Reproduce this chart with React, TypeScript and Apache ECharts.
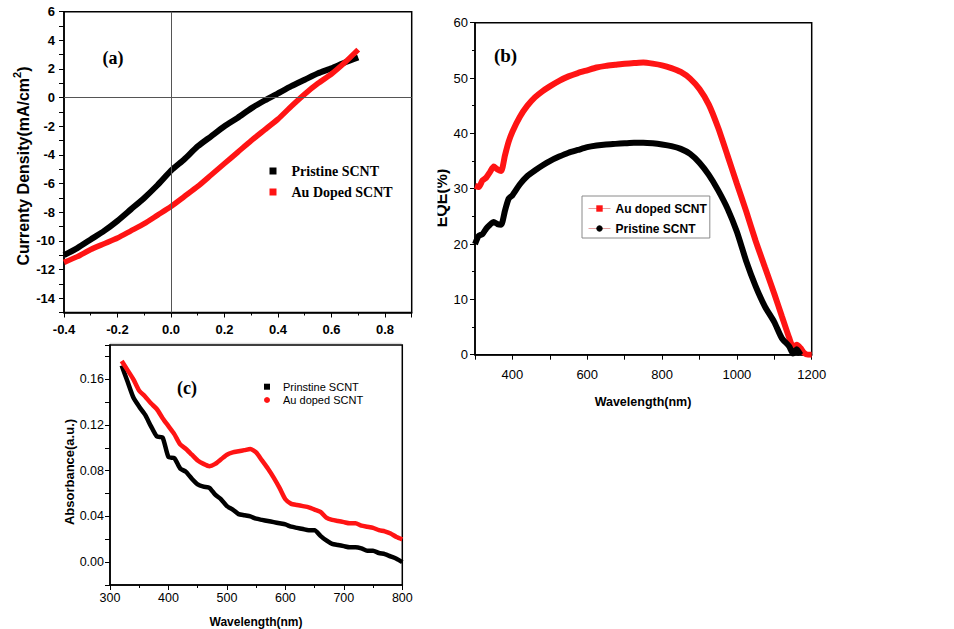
import React, { useEffect, useRef } from "react";
import * as echarts from "echarts";

// ---------- Panel (a): J-V curves ----------
const aVoltage = [-0.4, -0.35, -0.3, -0.25, -0.2, -0.15, -0.1, -0.05, 0, 0.05, 0.1, 0.15, 0.2, 0.25, 0.3, 0.35, 0.4, 0.45, 0.5, 0.55, 0.6, 0.65, 0.7];
const aPristine = [-11.0, -10.5, -9.9, -9.3, -8.6, -7.8, -7.0, -6.1, -5.1, -4.3, -3.4, -2.7, -2.0, -1.4, -0.75, -0.2, 0.3, 0.8, 1.25, 1.7, 2.05, 2.45, 2.8];
const aAuDoped = [-11.5, -11.1, -10.6, -10.2, -9.8, -9.3, -8.8, -8.2, -7.6, -6.9, -6.2, -5.4, -4.6, -3.8, -3.0, -2.25, -1.5, -0.6, 0.25, 1.0, 1.65, 2.45, 3.35];

// ---------- Panel (b): EQE ----------
const bWavelength = [300, 310, 320, 330, 340, 350, 360, 370, 380, 390, 400, 420, 440, 460, 480, 500, 525, 550, 575, 600, 625, 650, 675, 700, 725, 750, 775, 800, 825, 850, 875, 900, 925, 950, 975, 1000, 1025, 1050, 1075, 1100, 1120, 1140, 1150, 1160, 1170, 1180, 1190, 1200];
const bAuDoped = [30.5, 30.3, 31.5, 32.0, 33.0, 34.0, 33.5, 33.2, 36.0, 38.5, 40.3, 43.0, 45.0, 46.5, 47.6, 48.5, 49.5, 50.3, 50.9, 51.4, 51.9, 52.2, 52.4, 52.6, 52.7, 52.8, 52.6, 52.3, 51.8, 51.1, 49.9, 48.0, 45.2, 41.0, 36.0, 30.9, 25.9, 20.6, 15.8, 11.0, 7.0, 3.0, 1.4, 1.8, 1.2, 0.3, 0, 0];
const bPristine = [20.0, 21.5, 21.8, 22.8, 23.5, 24.0, 23.6, 23.5, 26.0, 28.2, 28.8, 30.8, 32.3, 33.3, 34.2, 35.0, 35.8, 36.5, 37.0, 37.5, 37.8, 38.0, 38.1, 38.2, 38.3, 38.3, 38.2, 38.0, 37.7, 37.2, 36.3, 34.7, 32.5, 29.7, 26.4, 22.2, 16.9, 12.4, 8.7, 5.9, 3.0, 1.5, 0.2, 1.0, 0, null, null, null];

// ---------- Panel (c): Absorbance ----------
const cWavelength = [320, 330, 340, 350, 360, 370, 380, 390, 400, 410, 420, 430, 440, 450, 460, 470, 480, 490, 500, 510, 520, 530, 540, 550, 560, 570, 580, 590, 600, 610, 620, 630, 640, 650, 660, 670, 680, 690, 700, 710, 720, 730, 740, 750, 760, 770, 780, 790, 800];
const cPristine = [0.172, 0.158, 0.144, 0.136, 0.129, 0.119, 0.110, 0.109, 0.092, 0.091, 0.082, 0.079, 0.073, 0.068, 0.066, 0.065, 0.059, 0.055, 0.049, 0.046, 0.042, 0.041, 0.040, 0.038, 0.037, 0.036, 0.035, 0.034, 0.033, 0.031, 0.030, 0.029, 0.028, 0.028, 0.023, 0.019, 0.016, 0.015, 0.014, 0.013, 0.013, 0.012, 0.010, 0.010, 0.008, 0.007, 0.005, 0.003, 0.000];
const cAuDoped = [0.176, 0.168, 0.160, 0.150, 0.145, 0.139, 0.134, 0.126, 0.119, 0.112, 0.103, 0.099, 0.094, 0.089, 0.086, 0.084, 0.086, 0.090, 0.094, 0.096, 0.097, 0.098, 0.099, 0.096, 0.089, 0.082, 0.074, 0.065, 0.055, 0.051, 0.050, 0.049, 0.048, 0.046, 0.044, 0.039, 0.037, 0.036, 0.035, 0.034, 0.034, 0.032, 0.031, 0.030, 0.028, 0.027, 0.025, 0.022, 0.020];

const SANS = "Arial, 'Liberation Sans', Helvetica, sans-serif";
const SERIF = "'Times New Roman', 'Liberation Serif', Times, serif";
const RED = "#ff1414";
const BLACK = "#000000";

const pairs = (xs: number[], ys: (number | null)[]) =>
  xs.map((x, i) => [x, ys[i]]).filter((p) => p[1] !== null);

const axisLineStyle = { color: "#000", width: 1.5 };

function App() {
  const ref = useRef<HTMLDivElement>(null);

  useEffect(() => {
    if (!ref.current) return;
    const chart = echarts.init(ref.current, undefined, { renderer: "svg" });

    const baseAxis = (extra: any) => ({
      type: "value",
      axisLine: { show: true, onZero: false, lineStyle: axisLineStyle },
      axisTick: { show: true, inside: false, length: 5, lineStyle: { color: "#000", width: 1 } },
      splitLine: { show: false },
      ...extra,
    });

    const option: any = {
      animation: false,
      backgroundColor: "#ffffff",
      grid: [
        { left: 64, top: 11.7, width: 347.7, height: 300.8, show: true, borderColor: "#000", borderWidth: 1.5, backgroundColor: "transparent" },
        { left: 475, top: 22.7, width: 336.7, height: 332, show: true, borderColor: "#000", borderWidth: 1.5, backgroundColor: "transparent" },
        { left: 110, top: 345, width: 292.3, height: 240, show: true, borderColor: "#000", borderWidth: 1.5, backgroundColor: "transparent" },
      ],
      xAxis: [
        baseAxis({
          gridIndex: 0, min: -0.4, max: 0.9, interval: 0.2,
          minorTick: { show: true, splitNumber: 2, length: 3, lineStyle: { color: "#000" } },
          axisLabel: {
            margin: 10, fontSize: 13, fontWeight: "bold", color: "#000", fontFamily: SANS,
            formatter: (v: number) => {
              const k = Math.round(v * 10);
              if (k % 2 !== 0) return "";
              return (k / 10).toFixed(1);
            },
          },
        }),
        baseAxis({
          gridIndex: 1, min: 300, max: 1200, interval: 100,
          axisLabel: {
            margin: 13, fontSize: 13, color: "#000", fontFamily: SANS,
            formatter: (v: number) => (Math.round(v) % 200 === 0 ? String(Math.round(v)) : ""),
          },
        }),
        baseAxis({
          gridIndex: 2, min: 300, max: 800, interval: 100,
          minorTick: { show: true, splitNumber: 2, length: 3, lineStyle: { color: "#000" } },
          axisLabel: { margin: 6, fontSize: 12.5, color: "#000", fontFamily: SANS },
        }),
      ],
      yAxis: [
        baseAxis({
          gridIndex: 0, min: -15, max: 6, interval: 1,
          axisLabel: {
            margin: 9, fontSize: 13, fontWeight: "bold", color: "#000", fontFamily: SANS,
            formatter: (v: number) => {
              const k = Math.round(v);
              return k % 2 === 0 ? String(k) : "";
            },
          },
        }),
        baseAxis({
          gridIndex: 1, min: 0, max: 60, interval: 10,
          minorTick: { show: true, splitNumber: 2, length: 3, lineStyle: { color: "#000" } },
          axisLabel: { margin: 7, fontSize: 13, color: "#000", fontFamily: SANS },
        }),
        baseAxis({
          gridIndex: 2, min: -0.02, max: 0.19, interval: 0.02,
          axisLabel: {
            margin: 6, fontSize: 12.5, color: "#000", fontFamily: SANS,
            formatter: (v: number) => {
              const k = Math.round(v * 100);
              return k % 4 === 0 ? (k / 100).toFixed(2) : "";
            },
          },
        }),
      ],
      legend: [
        {
          data: [
            { name: "Pristine SCNT", icon: "rect" },
            { name: "Au Doped SCNT", icon: "rect" },
          ],
          orient: "vertical", left: 269.5, top: 163, padding: 0, itemGap: 5,
          itemWidth: 7, itemHeight: 7, selectedMode: false,
          textStyle: { fontFamily: SERIF, fontWeight: "bold", fontSize: 14, lineHeight: 16, color: "#000", padding: [0, 0, 0, 10] },
        },
        {
          data: [{ name: "Au doped SCNT" }, { name: "Pristine SCNT" }],
          orient: "vertical", left: 582, top: 196, padding: [5, 3, 2, 6], itemGap: 5,
          itemWidth: 22, itemHeight: 8, selectedMode: false,
          borderColor: "#8a8a8a", borderWidth: 1,
          lineStyle: { width: 1, color: "#e6a0a0" },
          textStyle: { fontFamily: SANS, fontWeight: "bold", fontSize: 12, lineHeight: 15, color: "#000" },
        },
        {
          data: [
            { name: "Prinstine SCNT", icon: "rect" },
            { name: "Au doped SCNT", icon: "circle" },
          ],
          orient: "vertical", left: 264, top: 380.2, padding: 0, itemGap: 0.3,
          itemWidth: 6, itemHeight: 6, selectedMode: false,
          textStyle: { fontFamily: SANS, fontSize: 11, lineHeight: 13, color: "#000", padding: [0, 0, 0, 8] },
        },
      ],
      series: [
        {
          name: "Au doped SCNT", type: "line", xAxisIndex: 1, yAxisIndex: 1,
          data: pairs(bWavelength, bAuDoped), showSymbol: false, symbol: "rect", symbolSize: 7,
          smooth: 0.2, lineStyle: { color: RED, width: 6 }, itemStyle: { color: RED }, z: 3,
        },
        {
          name: "Pristine SCNT", type: "line", xAxisIndex: 1, yAxisIndex: 1,
          data: pairs(bWavelength, bPristine), showSymbol: false, symbol: "circle", symbolSize: 7,
          smooth: 0.2, lineStyle: { color: BLACK, width: 6 }, itemStyle: { color: BLACK }, z: 4,
        },
        {
          name: "Pristine SCNT", type: "line", xAxisIndex: 0, yAxisIndex: 0,
          data: pairs(aVoltage, aPristine), showSymbol: false, symbol: "rect",
          smooth: 0.2, lineStyle: { color: BLACK, width: 6 }, itemStyle: { color: BLACK }, z: 3,
        },
        {
          name: "Au Doped SCNT", type: "line", xAxisIndex: 0, yAxisIndex: 0,
          data: pairs(aVoltage, aAuDoped), showSymbol: false, symbol: "rect",
          smooth: 0.2, lineStyle: { color: RED, width: 5.5 }, itemStyle: { color: RED }, z: 4,
        },
        {
          name: "Prinstine SCNT", type: "line", xAxisIndex: 2, yAxisIndex: 2,
          data: pairs(cWavelength, cPristine), showSymbol: false, symbol: "rect",
          smooth: 0.2, lineStyle: { color: BLACK, width: 4.5 }, itemStyle: { color: BLACK }, z: 3,
        },
        {
          name: "Au doped SCNT", type: "line", xAxisIndex: 2, yAxisIndex: 2,
          data: pairs(cWavelength, cAuDoped), showSymbol: false, symbol: "circle",
          smooth: 0.2, lineStyle: { color: RED, width: 4.5 }, itemStyle: { color: RED }, z: 4,
        },
        {
          name: "zero-lines", type: "line", xAxisIndex: 0, yAxisIndex: 0, data: [], z: 1,
          markLine: {
            silent: true, symbol: ["none", "none"], label: { show: false },
            lineStyle: { color: "#555", width: 1, type: "solid" },
            data: [{ xAxis: 0 }, { yAxis: 0 }],
          },
        },
      ],
      graphic: [
        { type: "text", x: 113, y: 58, style: { text: "(a)", font: `bold 18px ${SERIF}`, fill: "#000", align: "center", verticalAlign: "middle" } },
        { type: "text", x: 505.5, y: 55, style: { text: "(b)", font: `bold 19px ${SERIF}`, fill: "#000", align: "center", verticalAlign: "middle" } },
        { type: "text", x: 187, y: 387.5, style: { text: "(c)", font: `bold 18px ${SERIF}`, fill: "#000", align: "center", verticalAlign: "middle" } },
        {
          type: "text", x: 21, y: 166, rotation: Math.PI / 2,
          style: {
            text: "{b|Currenty Density(mA/cm}{s|2}{b|)}",
            align: "center", verticalAlign: "middle", fill: "#000",
            rich: {
              b: { fontFamily: SANS, fontWeight: "bold", fontSize: 16, lineHeight: 20, verticalAlign: "bottom", fill: "#000" },
              s: { fontFamily: SANS, fontWeight: "bold", fontSize: 11, lineHeight: 20, verticalAlign: "top", fill: "#000" },
            },
          },
        },
        { type: "text", x: 441, y: 198, rotation: Math.PI / 2, style: { text: "EQE(%)", font: `bold 16px ${SANS}`, fill: "#000", align: "center", verticalAlign: "middle" } },
        { type: "rect", shape: { x: 424, y: 150, width: 13.5, height: 100 }, style: { fill: "#fff" }, z: 10 },
        { type: "text", x: 643, y: 401.7, style: { text: "Wavelength(nm)", font: `bold 12.5px ${SANS}`, fill: "#000", align: "center", verticalAlign: "middle" } },
        { type: "text", x: 69, y: 472, rotation: Math.PI / 2, style: { text: "Absorbance(a.u.)", font: `bold 13px ${SANS}`, fill: "#000", align: "center", verticalAlign: "middle" } },
        { type: "text", x: 256, y: 621.5, style: { text: "Wavelength(nm)", font: `bold 12px ${SANS}`, fill: "#000", align: "center", verticalAlign: "middle" } },
        { type: "line", shape: { x1: 110, y1: 343.3, x2: 401.7, y2: 343.3 }, style: { stroke: "#d4d4d4", lineWidth: 1 } },
      ],
    };

    chart.setOption(option);
    return () => chart.dispose();
  }, []);

  return (
    <div
      ref={ref}
      style={{ position: "absolute", left: 0, top: 0, width: 954, height: 629, background: "#fff" }}
    />
  );
}

export default App;
